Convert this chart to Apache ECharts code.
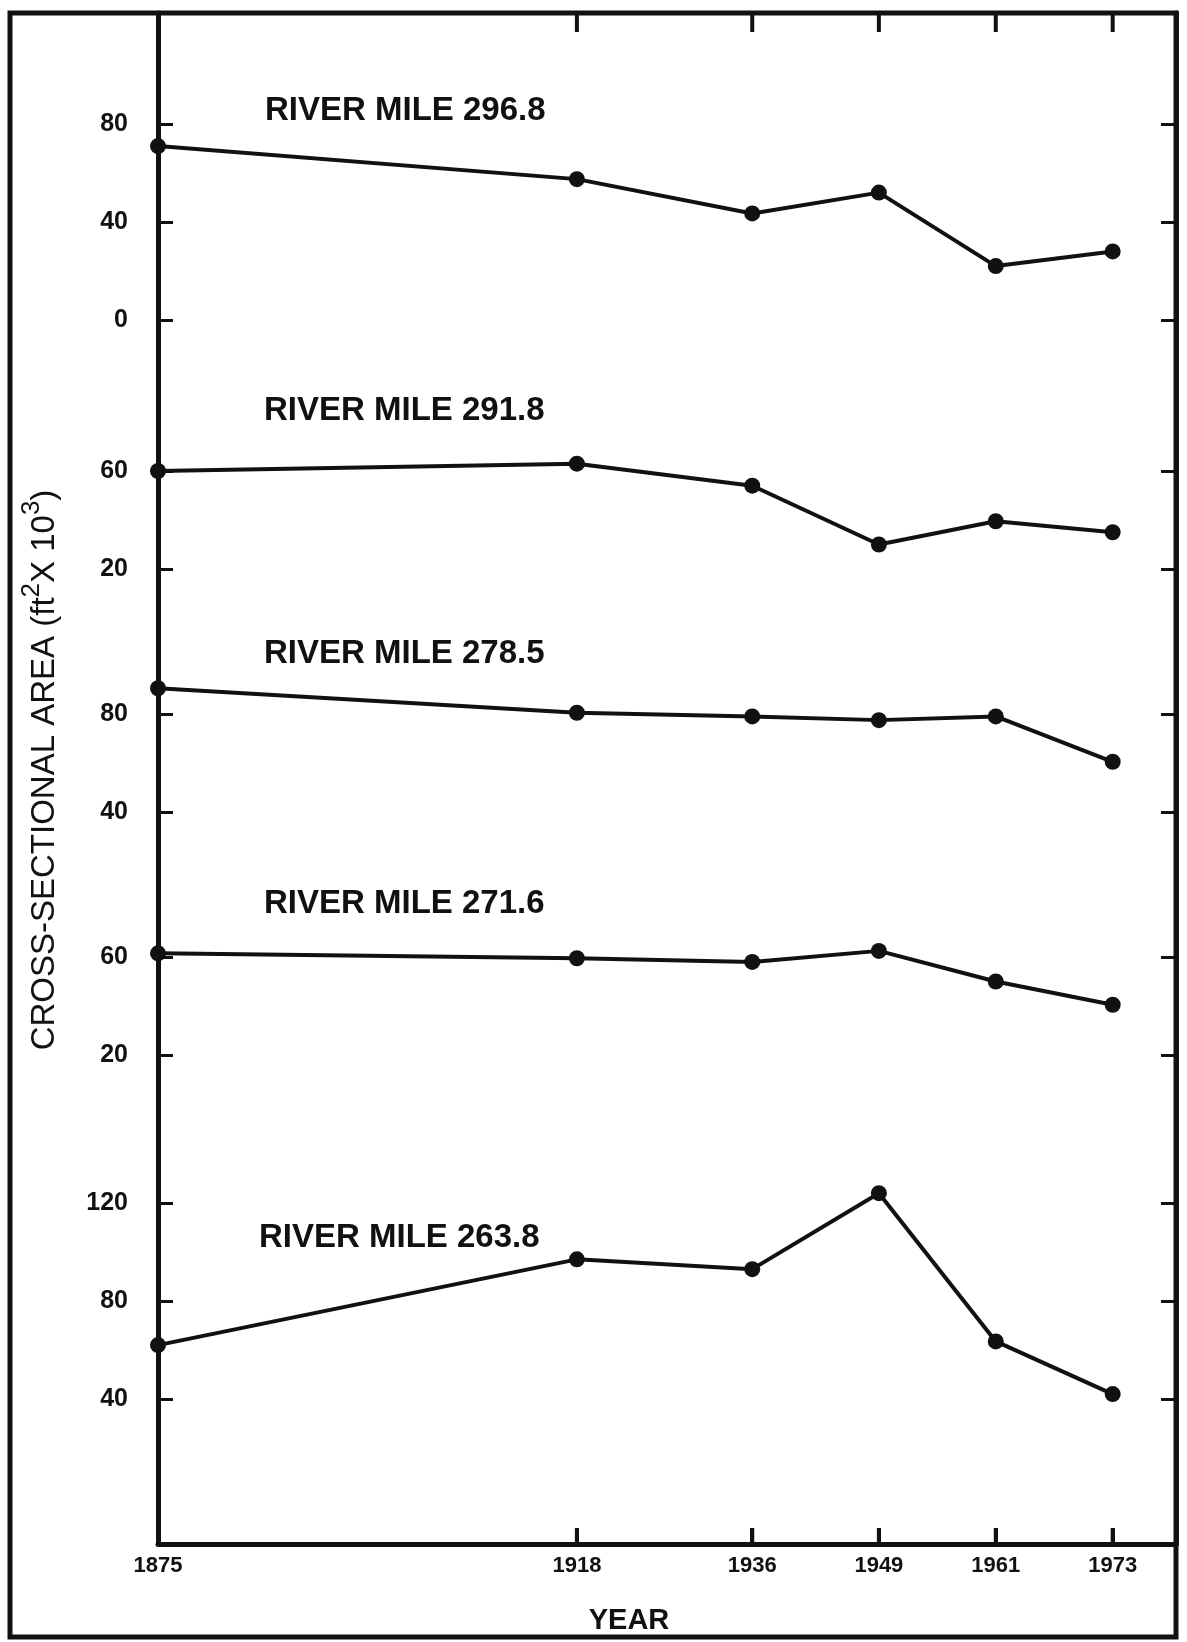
<!DOCTYPE html>
<html>
<head>
<meta charset="utf-8">
<script src="https://cdn.jsdelivr.net/npm/echarts@6/dist/echarts.min.js"></script>
<style>
  html, body { margin: 0; padding: 0; background: #fff; }
  #chart { width: 1187px; height: 1642px; }
</style>
</head>
<body>
<div id="chart"></div>
<script>
// ---------------- data ----------------
const years = [1875, 1918, 1936, 1949, 1961, 1973];
const rm2968 = [71, 57.5, 43.5, 52, 22, 28];
const rm2918 = [60, 63, 54, 30, 39.5, 35];
const rm2785 = [90.5, 80.5, 79, 77.5, 79, 60.5];
const rm2716 = [61.5, 59.5, 58, 62.5, 50, 40.5];
const rm2638 = [62, 97, 93, 124, 63.5, 42];
const panelNames = ['RIVER MILE 296.8', 'RIVER MILE 291.8', 'RIVER MILE 278.5', 'RIVER MILE 271.6', 'RIVER MILE 263.8'];
const yTickValues = [[0, 40, 80], [20, 60], [40, 80], [20, 60], [40, 80, 120]];
const xLabelYears = [1875, 1918, 1936, 1949, 1961, 1973];
const xTickYears = [1918, 1936, 1949, 1961, 1973];
const xTitle = 'YEAR';

// ---------------- layout ----------------
const PL = 158, PR = 1176, PT = 13, PB = 1544;
const FRAME = { l: 10, t: 13, r: 1176, b: 1637 };
const bounds = [PT, 365, 605, 850, 1110, PB];
const refs = [[0, 320], [60, 471], [80, 714], [60, 957], [120, 1203]]; // value, pixel y
const pxPerUnit = 2.45;
const xMin = 1875, xMax = 1979.5;
const labelPos = [[265, 112], [264, 412], [264, 655], [264, 905], [259, 1239]];
const INK = '#111';
const FONT = '"Liberation Sans", Arial, "DejaVu Sans", sans-serif';
const TOP_TICK = 19, BOTTOM_TICK = 16, TICK_W = 4;

const seriesValues = [rm2968, rm2918, rm2785, rm2716, rm2638];

const grids = [], xAxes = [], yAxes = [], series = [], graphics = [];

for (let i = 0; i < 5; i++) {
  const top = bounds[i], bottom = bounds[i + 1];
  const [rv, ry] = refs[i];
  const yMax = rv + (ry - top) / pxPerUnit;
  const yMin = rv - (bottom - ry) / pxPerUnit;
  grids.push({ left: PL, right: 1187 - PR, top: top, height: bottom - top, containLabel: false });
  const isLast = i === 4;
  xAxes.push({
    type: 'value', gridIndex: i, min: xMin, max: xMax, position: 'bottom',
    show: isLast,
    splitLine: { show: false },
    axisLine: { show: isLast, onZero: false, lineStyle: { color: INK, width: 5 } },
    axisTick: { show: isLast, inside: true, length: BOTTOM_TICK, lineStyle: { color: INK, width: TICK_W }, customValues: xTickYears },
    axisLabel: { show: isLast, customValues: xLabelYears, margin: 11, color: INK, fontSize: 22, fontWeight: 'bold', fontFamily: FONT,
      formatter: v => String(v) }
  });
  yAxes.push({
    type: 'value', gridIndex: i, min: yMin, max: yMax, position: 'left',
    splitLine: { show: false },
    axisLine: { show: true, onZero: false, lineStyle: { color: INK, width: 5 } },
    axisTick: { show: true, inside: true, length: 15, lineStyle: { color: INK, width: 3 }, customValues: yTickValues[i] },
    axisLabel: { show: true, customValues: yTickValues[i], margin: 30, color: INK, fontSize: 25, fontWeight: 'bold', fontFamily: FONT,
      formatter: v => String(v) }
  });
  series.push({
    type: 'line', xAxisIndex: i, yAxisIndex: i,
    data: years.map((y, k) => [y, seriesValues[i][k]]),
    symbol: 'circle', symbolSize: 16, clip: false,
    lineStyle: { color: INK, width: 4 },
    itemStyle: { color: INK },
    animation: false
  });
  graphics.push({
    type: 'text', left: labelPos[i][0], top: labelPos[i][1] - 18,
    style: { text: panelNames[i], fill: INK, fontSize: 33, fontWeight: 'bold', fontFamily: FONT }
  });
}
// right-side ticks
for (let i = 0; i < 5; i++) {
  const top = bounds[i], bottom = bounds[i + 1];
  const [rv, ry] = refs[i];
  yAxes.push({
    type: 'value', gridIndex: i, position: 'right',
    min: rv - (bottom - ry) / pxPerUnit, max: rv + (ry - top) / pxPerUnit,
    splitLine: { show: false },
    axisLine: { show: true, onZero: false, lineStyle: { color: INK, width: 5 } },
    axisTick: { show: true, inside: true, length: 15, lineStyle: { color: INK, width: 3 }, customValues: yTickValues[i] },
    axisLabel: { show: false }
  });
}

// frame and titles
graphics.push({
  type: 'rect', shape: { x: FRAME.l, y: FRAME.t, width: FRAME.r - FRAME.l, height: FRAME.b - FRAME.t },
  style: { fill: 'none', stroke: INK, lineWidth: 5 }, z: 10
});
graphics.push({
  type: 'text', x: 629, y: 1621,
  style: { text: xTitle, fill: INK, fontSize: 29, fontWeight: 'bold', fontFamily: FONT,
    align: 'center', verticalAlign: 'middle', textAlign: 'center', textVerticalAlign: 'middle' }
});
graphics.push({
  type: 'text', x: 40, y: 770, rotation: Math.PI / 2,
  style: {
    text: '{a|CROSS-SECTIONAL AREA (ft}{s|2}{a|X 10}{s|3}{a|)}',
    align: 'center', verticalAlign: 'middle', textAlign: 'center', textVerticalAlign: 'middle',
    fill: INK,
    rich: {
      a: { fontSize: 33, fontFamily: FONT, fill: INK, verticalAlign: 'bottom', lineHeight: 42 },
      s: { fontSize: 26, fontFamily: FONT, fill: INK, verticalAlign: 'top', lineHeight: 42 }
    }
  }
});

const chart = echarts.init(document.getElementById('chart'), null, { renderer: 'canvas' });
chart.setOption({
  backgroundColor: '#fff',
  animation: false,
  grid: grids,
  xAxis: xAxes,
  yAxis: yAxes,
  series: series
});

// year tick marks on the top and bottom edges, placed through the year axis' scale
function yearToPx(yr) {
  let x = NaN;
  try {
    const r = chart.convertToPixel({ xAxisIndex: 4 }, yr);
    x = Array.isArray(r) ? r[0] : Number(r);
  } catch (e) { x = NaN; }
  if (!isFinite(x) || x < PL || x > PR) x = PL + (yr - xMin) / (xMax - xMin) * (PR - PL);
  return x;
}
xTickYears.forEach(yr => {
  const x = yearToPx(yr);
  graphics.push({
    type: 'rect', shape: { x: x - TICK_W / 2, y: PT, width: TICK_W, height: TOP_TICK },
    style: { fill: INK }, z: 11
  });
  graphics.push({
    type: 'rect', shape: { x: x - TICK_W / 2, y: PB - BOTTOM_TICK, width: TICK_W, height: BOTTOM_TICK },
    style: { fill: INK }, z: 11
  });
});
chart.setOption({ graphic: { elements: graphics } });
</script>
</body>
</html>
